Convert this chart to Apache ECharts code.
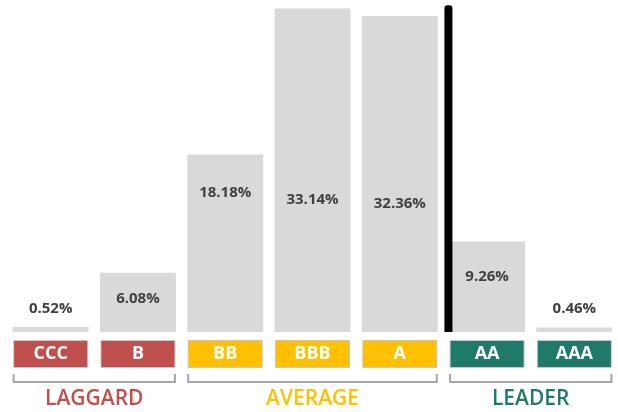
<!DOCTYPE html>
<html>
<head>
<meta charset="utf-8">
<script src="https://cdn.jsdelivr.net/npm/echarts@6/dist/echarts.min.js"></script>
<style>
html,body{margin:0;padding:0;background:#fff;}
#chart{width:618px;height:412px;}
</style>
</head>
<body>
<div id="chart"></div>
<script>
// ---- data ----
const categories = ['CCC', 'B', 'BB', 'BBB', 'A', 'AA', 'AAA'];
const values = [0.52, 6.08, 18.18, 33.14, 32.36, 9.26, 0.46];
const groupNames = ['LAGGARD', 'AVERAGE', 'LEADER'];
const categoryGroup = [0, 0, 1, 1, 1, 2, 2];
const dividerAfterIndex = 4;   // black separator between A and AA
const dividerTopValue = 33.45;

// ---- styles ----
const groupColors = ['#C0504D', '#FFC000', '#1F7A6A'];
const barColor = '#D9D9D9';
const FONT = 'Open Sans';
// label placement per bar: 'top' = above bar, number = px below bar top (label center)
const labelPlacement = ['top', 26, 38, 191, 188, 35, 'top'];

const chart = echarts.init(document.getElementById('chart'));

const rich = {};
groupColors.forEach((c, i) => {
  rich['g' + i] = {
    backgroundColor: c,
    color: '#fff',
    width: 73,
    height: 26,
    lineHeight: 26,
    align: 'center',
    fontFamily: FONT,
    fontWeight: 'bold',
    fontSize: 18,
    borderColor: '#c8c8c8',
    borderWidth: 1
  };
});

const seriesData = values.map((v, i) => {
  const p = labelPlacement[i];
  const label = p === 'top'
    ? { position: 'top', distance: 11 }
    : { position: ['50%', p], align: 'center', verticalAlign: 'middle' };
  return { value: v, label: label };
});

chart.setOption({
  animation: false,
  grid: { left: 7, right: 0, top: 0, bottom: 80 },
  xAxis: {
    type: 'category',
    data: categories,
    axisLine: { show: false },
    axisTick: { show: false },
    axisLabel: {
      margin: 9,
      interval: 0,
      formatter: (val, idx) => '{g' + categoryGroup[idx] + '|' + val + '}',
      rich: rich
    }
  },
  yAxis: {
    type: 'value',
    min: 0,
    max: 34,
    show: false,
    splitLine: { show: false }
  },
  series: [{
    type: 'bar',
    data: seriesData,
    barCategoryGap: '13%',
    itemStyle: { color: barColor },
    label: {
      show: true,
      formatter: p => p.value.toFixed(2) + '%',
      color: '#404040',
      fontFamily: FONT,
      fontWeight: 'bold',
      fontSize: 15
    }
  }]
});

// ---- decorations positioned from the axes ----
const cx = i => chart.convertToPixel({ xAxisIndex: 0 }, i);
const vy = v => chart.convertToPixel({ yAxisIndex: 0 }, v);
const base = vy(0);
const halfBox = 37;
const graphics = [];

groupNames.forEach((name, g) => {
  const idxs = categoryGroup.map((gg, i) => gg === g ? i : -1).filter(i => i >= 0);
  const xl = cx(idxs[0]) - halfBox;
  const xr = cx(idxs[idxs.length - 1]) + halfBox;
  graphics.push({
    type: 'polyline',
    shape: { points: [[xl, base + 42], [xl, base + 50], [xr, base + 50], [xr, base + 42]] },
    style: { stroke: '#a6a6a6', lineWidth: 2, fill: null }
  });
  graphics.push({
    type: 'text',
    x: (xl + xr) / 2,
    y: base + 67,
    style: {
      text: name,
      fill: groupColors[g],
      font: '600 21px "' + FONT + '"',
      textAlign: 'center',
      textVerticalAlign: 'middle'
    }
  });
});

const dx = (cx(dividerAfterIndex) + cx(dividerAfterIndex + 1)) / 2 + 5;
const dTop = vy(dividerTopValue);
graphics.push({
  type: 'rect',
  shape: { x: dx - 4, y: dTop, width: 8, height: base - dTop, r: [3, 3, 0, 0] },
  style: { fill: '#000' },
  z: 10
});

chart.setOption({ graphic: graphics });
</script>
</body>
</html>
